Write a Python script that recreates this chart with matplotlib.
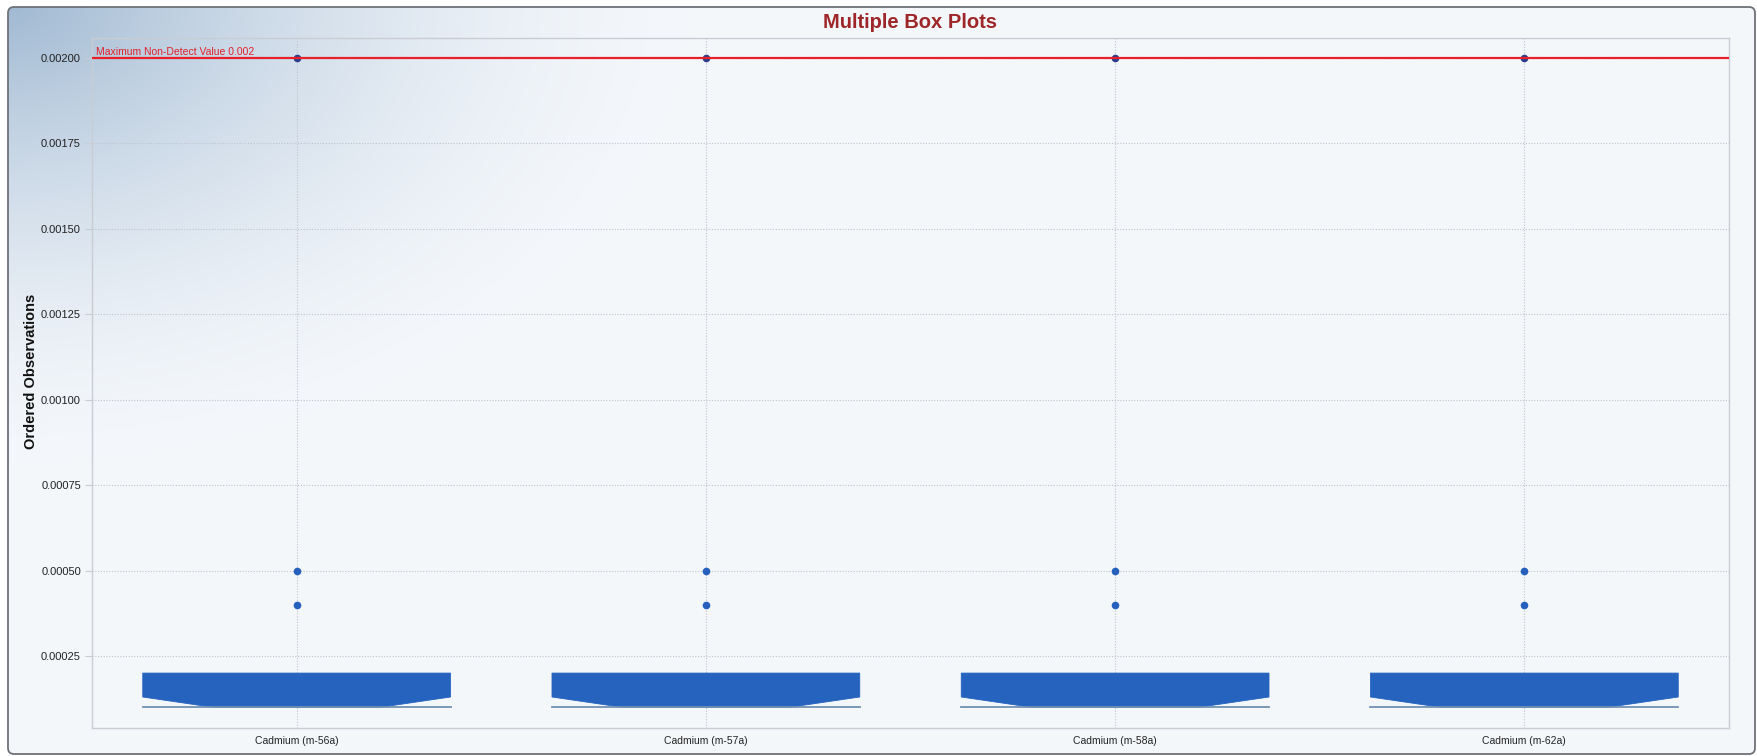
import numpy as np
import matplotlib
matplotlib.use("Agg")
import matplotlib.pyplot as plt
from matplotlib.patches import FancyBboxPatch, Polygon

# ---- data ----
categories = ["Cadmium (m-56a)", "Cadmium (m-57a)", "Cadmium (m-58a)", "Cadmium (m-62a)"]
q1 = [0.0001, 0.0001, 0.0001, 0.0001]
median = [0.0001, 0.0001, 0.0001, 0.0001]
q3 = [0.0002, 0.0002, 0.0002, 0.0002]
notch_hi = [0.00013, 0.00013, 0.00013, 0.00013]
whisker_lo = [0.0001, 0.0001, 0.0001, 0.0001]
outliers = [[0.0004, 0.0005, 0.002]] * 4
max_nd = 0.002
y_ticks = [0.00025, 0.0005, 0.00075, 0.001, 0.00125, 0.0015, 0.00175, 0.002]

plt.rcParams['font.family'] = ['Liberation Sans', 'DejaVu Sans']

W, H = 1758, 756
fig = plt.figure(figsize=(W / 100, H / 100), dpi=100)
fig.patch.set_facecolor("white")

# ---- background panel with corner gradient ----
bg = fig.add_axes([0, 0, 1, 1], zorder=-10)
bg.set_xlim(0, W)
bg.set_ylim(H, 0)
bg.axis("off")
yy, xx = np.mgrid[0:H, 0:W]
d = np.sqrt((xx / 700.0) ** 2 + (yy / 470.0) ** 2)
t = np.clip(1 - d, 0, 1) ** 1.7
base = np.array([0.957, 0.969, 0.984])
corner = np.array([0.62, 0.72, 0.82])
img = base[None, None, :] * (1 - t[..., None]) + corner[None, None, :] * t[..., None]
panel = FancyBboxPatch((8, 7), 1747, 747, boxstyle="round,pad=0,rounding_size=6",
                       facecolor="none", edgecolor="#6E7278", linewidth=1.3, zorder=3)
im = bg.imshow(img, extent=(0, W, H, 0), zorder=1, interpolation="bilinear")
bg.add_patch(panel)
im.set_clip_path(panel)

# ---- main axes ----
left, right, top, bottom = 92, 1729, 38, 728
ax = fig.add_axes([left / W, 1 - bottom / H, (right - left) / W, (bottom - top) / H])
ax.set_facecolor("none")
ax.set_xlim(0.5, len(categories) + 0.5)
ax.set_ylim(0.0000393, 0.0020585)

for s in ax.spines.values():
    s.set_color("#C9CDD3")
    s.set_linewidth(1.0)

ax.set_yticks(y_ticks)
ax.set_yticklabels([f"{v:.5f}" for v in y_ticks], fontsize=8, color="#222222")
ax.set_xticks(range(1, len(categories) + 1))
ax.set_xticklabels(categories, fontsize=7.5, color="#222222")
ax.tick_params(axis="y", length=5, color="#C9CDD3", pad=3)
ax.tick_params(axis="x", length=0, pad=6)
ax.grid(True, linestyle=(0, (1, 1.5)), color="#BFC4CC", linewidth=0.8)
ax.set_axisbelow(True)

box_half = 0.376
notch_half = 0.205
for i in range(len(categories)):
    x = i + 1
    verts = [
        (x - box_half, q3[i]),
        (x + box_half, q3[i]),
        (x + box_half, notch_hi[i]),
        (x + notch_half, median[i]),
        (x - notch_half, median[i]),
        (x - box_half, notch_hi[i]),
    ]
    ax.add_patch(Polygon(verts, closed=True, facecolor="#2563BF", edgecolor="#2563BF",
                         linewidth=0.6, zorder=3))
    ax.plot([x - box_half, x + box_half], [whisker_lo[i], whisker_lo[i]],
            color="#7190B3", linewidth=1.3, zorder=3)
    low = [v for v in outliers[i] if v < max_nd]
    high = [v for v in outliers[i] if v >= max_nd]
    ax.plot([x] * len(low), low, "o", color="#2460BC", markersize=5.5,
            markeredgewidth=0, zorder=4)
    ax.plot([x] * len(high), high, "o", color="#2D3F8A", markersize=5.5,
            markeredgewidth=0, zorder=4)

ax.axhline(max_nd, color="#E8202A", linewidth=1.6, zorder=5)
ax.text(0.51, max_nd + 0.000004, "Maximum Non-Detect Value 0.002", fontsize=7.5,
        color="#E0202A", ha="left", va="bottom", zorder=6)

ax.set_ylabel("Ordered Observations", fontsize=10.5, fontweight="bold",
              color="#111111")
ax.yaxis.set_label_coords((38 - left) / (right - left), 0.517)

fig.text((left + right) / 2 / W, 1 - 22 / H, "Multiple Box Plots", fontsize=14.5,
         fontweight="bold", color="#9E2629", ha="center", va="center")

fig.savefig("out.png", dpi=100, facecolor=fig.get_facecolor())
